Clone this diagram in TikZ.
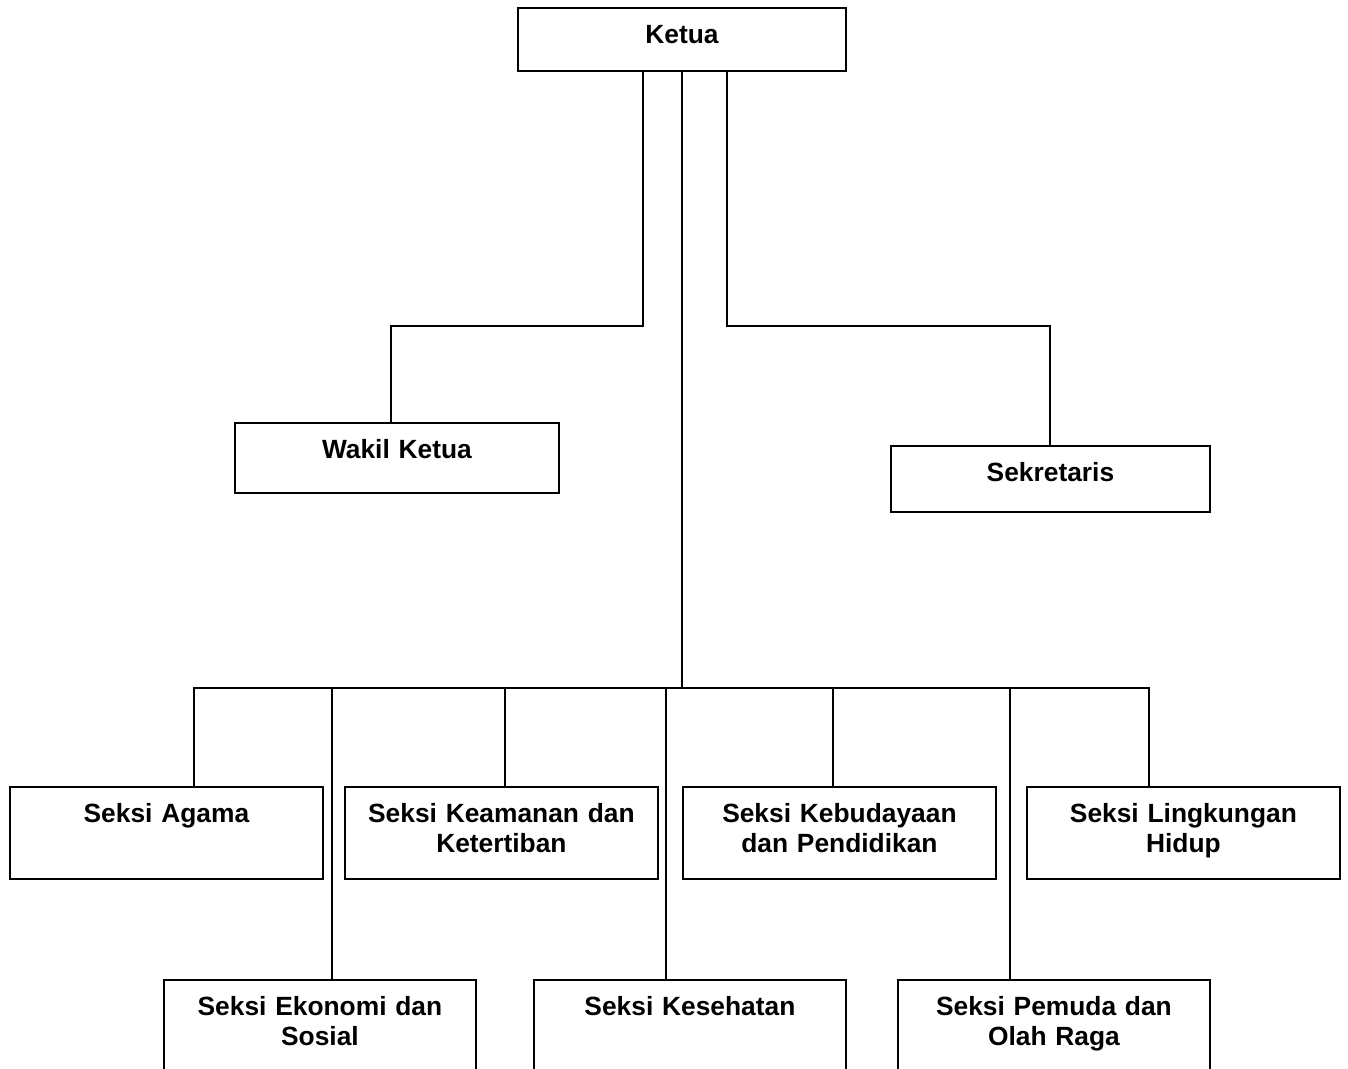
\documentclass[tikz,border=0pt]{standalone}
\usepackage{fontspec}
\setmainfont{Liberation Sans}
\usetikzlibrary{
  positioning,
  calc
}
\newcommand{\unitfont}{\fontsize{15}{17}\selectfont\bfseries}
\tikzset{
  unit/.style={
    draw,
    line width=1.1pt,
    inner sep=0pt,
    anchor=north west,
    align=center,
    text height=0.72cm,
    font=\unitfont
  }
}
\tikzset{
  seksi/.style={
    unit,
    text width=6.26cm,
    text depth=1.12cm
  }
}
\tikzset{
  seksiBawah/.style={
    unit,
    text width=6.24cm,
    text depth=1.70cm
  }
}
\tikzset{
  link/.style={
    line width=1.1pt
  }
}

\begin{document}
\begin{tikzpicture}[x=0.02cm, y=-0.02cm]
    \useasboundingbox (0,0) rectangle (1348,1068);
    % pengurus inti
    \node[unit, text width=6.56cm, text depth=0.54cm] (ketua) at (517,7) {Ketua};
    \node[unit, text width=6.48cm, text depth=0.68cm] (wakil) at (234,422) {Wakil Ketua};
    \node[unit, text width=6.38cm, text depth=0.60cm] (sekretaris) at (890,445) {Sekretaris};
    % seksi-seksi
    \node[seksi] (agama) at (9,786) {Seksi Agama};
    \node[seksi] (keamanan) at (344,786) {Seksi Keamanan dan\\Ketertiban};
    \node[seksi] (budaya) at (682,786) {Seksi Kebudayaan\\dan Pendidikan};
    \node[seksi] (lingkungan) at (1026,786) {Seksi Lingkungan\\Hidup};
    \node[seksiBawah] (ekonomi) at (163,979) {Seksi Ekonomi dan\\Sosial};
    \node[seksiBawah] (kesehatan) at (533,979) {Seksi Kesehatan};
    \node[seksiBawah] (pemuda) at (897,979) {Seksi Pemuda dan\\Olah Raga};
    \coordinate (bus) at (682,688);
    \draw[link]
    ($(ketua.south)+(-39,0)$) -- ++(0,254) -| ($(wakil.north)+(-6,0)$);
    \draw[link]
    ($(ketua.south)+(45,0)$) -- ++(0,254) -| (sekretaris.north);
    \draw[link] (bus |- ketua.south) -- (bus);
    \foreach \unit/\dx in {agama/27.5, ekonomi/12, keamanan/3.5, kesehatan/-24,
      budaya/-6.5, pemuda/-44, lingkungan/-34}{
      \draw[link] ($(\unit.north)+(\dx,0)$) |- (bus);
    }
  \end{tikzpicture}
\end{document}
